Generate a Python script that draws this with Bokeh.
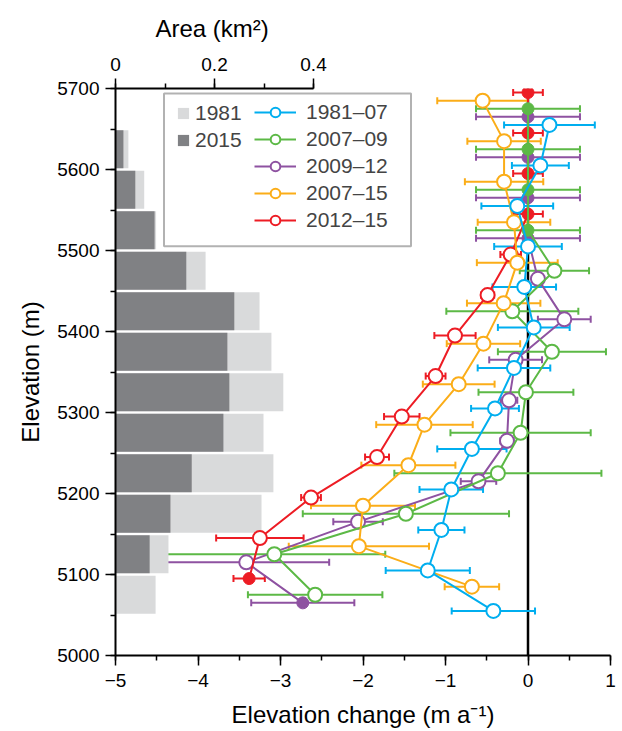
from bokeh.plotting import figure
from bokeh.models import (Range1d, LinearAxis, SingleIntervalTicker, Whisker, ColumnDataSource,
                          Legend, LegendItem, BoxAnnotation, Span, TeeHead, Title)
from bokeh.embed import file_html
from bokeh.resources import INLINE

# ---------------- data ----------------
bin_bottom = [5050, 5100, 5150, 5200, 5250, 5300, 5350, 5400, 5450, 5500, 5550, 5600]
area_1981 = [0.081, 0.107, 0.295, 0.319, 0.299, 0.339, 0.315, 0.291, 0.182, 0.082, 0.058, 0.026]
area_2015 = [0.000, 0.069, 0.111, 0.154, 0.218, 0.230, 0.226, 0.240, 0.143, 0.079, 0.040, 0.016]

elev_1981_07 = [5655, 5605, 5555, 5505, 5455, 5405, 5355, 5305, 5255, 5205, 5155, 5105, 5055]
dh_1981_07 = [0.26, 0.15, -0.13, 0.0, -0.045, 0.07, -0.17, -0.40, -0.68, -0.93, -1.05, -1.215, -0.42]
err_1981_07 = [0.55, 0.345, 0.435, 0.41, 0.385, 0.435, 0.44, 0.29, 0.42, 0.385, 0.28, 0.51, 0.505]
filled_1981_07 = [False] * 13

elev_2007_09 = [5675, 5625, 5575, 5525, 5475, 5425, 5375, 5325, 5275, 5225, 5175, 5125, 5075]
dh_2007_09 = [0.0, 0.0, 0.0, 0.0, 0.32, -0.19, 0.29, -0.025, -0.09, -0.365, -1.48, -3.075, -2.58]
err_2007_09 = [0.63, 0.63, 0.63, 0.63, 0.42, 0.80, 0.655, 0.575, 0.85, 1.255, 1.25, 1.345, 0.815]
filled_2007_09 = [True, True, True, True] + [False] * 9

elev_2009_12 = [5665, 5615, 5565, 5515, 5465, 5415, 5365, 5315, 5265, 5215, 5165, 5115, 5065]
dh_2009_12 = [0.0, 0.0, 0.0, 0.0, 0.12, 0.44, -0.15, -0.23, -0.255, -0.60, -2.06, -3.415, -2.73]
err_2009_12 = [0.63, 0.63, 0.63, 0.63, 0.05, 0.32, 0.32, 0.10, 0.08, 0.215, 0.30, 1.005, 0.625]
filled_2009_12 = [True, True, True, True] + [False] * 8 + [True]

elev_2007_15 = [5685, 5635, 5585, 5535, 5485, 5435, 5385, 5335, 5285, 5235, 5185, 5135, 5085]
dh_2007_15 = [-0.55, -0.29, -0.29, -0.17, -0.13, -0.295, -0.54, -0.84, -1.255, -1.45, -2.00, -2.05, -0.68]
err_2007_15 = [0.55, 0.445, 0.475, 0.44, 0.49, 0.445, 0.445, 0.435, 0.585, 0.57, 0.63, 0.85, 0.33]
filled_2007_15 = [False] * 13

elev_2012_15 = [5695, 5645, 5595, 5545, 5495, 5445, 5395, 5345, 5295, 5245, 5195, 5145, 5095]
dh_2012_15 = [0.0, 0.0, 0.0, 0.0, -0.21, -0.49, -0.885, -1.12, -1.53, -1.83, -2.63, -3.25, -3.38]
err_2012_15 = [0.18, 0.18, 0.18, 0.18, 0.125, 0.08, 0.25, 0.12, 0.215, 0.145, 0.12, 0.53, 0.19]
filled_2012_15 = [True, True, True, True] + [False] * 8 + [True]

series_labels = ["1981\u201307", "2007\u201309", "2009\u201312", "2007\u201315", "2012\u201315"]
series_colors = ["#00aeef", "#5cb946", "#8e52a1", "#fbad18", "#ed1c24"]
area_labels = ["1981", "2015"]
area_colors = ["#d9dadb", "#808184"]

FONT = "Liberation Sans"

# ---------------- figure ----------------
p = figure(width=622, height=731, output_backend="svg", toolbar_location=None,
           x_range=Range1d(-5, 1), y_range=Range1d(5000, 5700),
           min_border_left=115, min_border_top=87, min_border_right=12, min_border_bottom=76,
           x_axis_label="Elevation change (m a\u207b\u00b9)", y_axis_label="Elevation (m)")
p.outline_line_color = None
p.xgrid.visible = False
p.ygrid.visible = False
p.background_fill_color = "white"
p.border_fill_color = "white"
p.extra_x_ranges = {"area": Range1d(0, 1.0)}

# area bars
centers = [b + 25 for b in bin_bottom]
bar_src = ColumnDataSource(dict(y=centers, a81=area_1981, a15=area_2015))
bar81 = p.hbar(y="y", left=0, right="a81", height=47, source=bar_src, x_range_name="area",
               fill_color=area_colors[0], line_color=None)
bar15 = p.hbar(y="y", left=0, right="a15", height=47, source=bar_src, x_range_name="area",
               fill_color=area_colors[1], line_color=None)

# zero line
p.add_layout(Span(location=0, dimension="height", line_color="black", line_width=2.5, level="underlay"))

series = {
    "1981\u201307": (elev_1981_07, dh_1981_07, err_1981_07, filled_1981_07),
    "2007\u201309": (elev_2007_09, dh_2007_09, err_2007_09, filled_2007_09),
    "2009\u201312": (elev_2009_12, dh_2009_12, err_2009_12, filled_2009_12),
    "2007\u201315": (elev_2007_15, dh_2007_15, err_2007_15, filled_2007_15),
    "2012\u201315": (elev_2012_15, dh_2012_15, err_2012_15, filled_2012_15),
}
color_of = dict(zip(series_labels, series_colors))
draw_order = ["2009\u201312", "2012\u201315", "2007\u201309", "2007\u201315", "1981\u201307"]
legend_renderers = {}
for name in draw_order:
    elev, dh, err, filled = series[name]
    c = color_of[name]
    src = ColumnDataSource(dict(y=elev, x=dh, lo=[d - e for d, e in zip(dh, err)],
                                hi=[d + e for d, e in zip(dh, err)]))
    w = Whisker(source=src, base="y", lower="lo", upper="hi", dimension="width",
                line_color=c, line_width=2,
                upper_head=TeeHead(size=7, line_color=c, line_width=2),
                lower_head=TeeHead(size=7, line_color=c, line_width=2))
    p.add_layout(w)
    ln = p.line("x", "y", source=src, line_color=c, line_width=2)
    op = ColumnDataSource(dict(y=[e for e, f in zip(elev, filled) if not f],
                               x=[d for d, f in zip(dh, filled) if not f]))
    fi = ColumnDataSource(dict(y=[e for e, f in zip(elev, filled) if f],
                               x=[d for d, f in zip(dh, filled) if f]))
    fr = p.scatter("x", "y", source=fi, marker="circle", size=12, fill_color=c, line_color=c, line_width=1)
    orr = p.scatter("x", "y", source=op, marker="circle", size=14, fill_color="white", line_color=c, line_width=2)
    legend_renderers[name] = [ln, orr]

# legend box
p.add_layout(BoxAnnotation(left=-4.412, right=-1.418, top=5693.8, bottom=5505.3,
                           fill_alpha=0, line_color="black", line_width=2, level="overlay"))

leg_sq = Legend(items=[LegendItem(label=area_labels[0], renderers=[bar81]),
                       LegendItem(label=area_labels[1], renderers=[bar15])],
                location=(61, 503))
leg_ser = Legend(items=[LegendItem(label=n, renderers=legend_renderers[n]) for n in series_labels],
                 location=(139, 423))
for lg, gw, gh, st in ((leg_sq, 14, 14, 5), (leg_ser, 42, 24, 10)):
    lg.background_fill_alpha = 0
    lg.border_line_color = None
    lg.padding = 0
    lg.margin = 0
    lg.spacing = 3
    lg.glyph_width = gw
    lg.glyph_height = gh
    lg.label_height = 24
    lg.label_standoff = st
    lg.label_text_font = FONT
    lg.label_text_font_size = "21px"
    lg.label_text_baseline = "middle"
    p.add_layout(lg)

# axes styling
def style_axis(ax):
    ax.axis_line_width = 2
    ax.axis_line_color = "black"
    ax.major_tick_line_width = 1.5
    ax.minor_tick_line_width = 1.5
    ax.major_tick_out = 10
    ax.major_tick_in = 0
    ax.minor_tick_out = 5
    ax.minor_tick_in = 0
    ax.major_label_text_font = FONT
    ax.major_label_text_font_size = "19px"
    ax.major_label_text_color = "black"
    ax.axis_label_text_font = FONT
    ax.axis_label_text_font_size = "24px"
    ax.axis_label_text_font_style = "normal"
    ax.axis_label_text_color = "black"

xa = p.xaxis[0]
xa.ticker = SingleIntervalTicker(interval=1, num_minor_ticks=2)
xa.major_label_overrides = {v: (("\u2212" + str(-v)) if v < 0 else str(v)) for v in range(-5, 2)}
style_axis(xa)
xa.major_label_standoff = 8
xa.axis_label_standoff = 11

ya = p.yaxis[0]
ya.ticker = SingleIntervalTicker(interval=100, num_minor_ticks=2)
style_axis(ya)
ya.major_label_standoff = 6
ya.axis_label_standoff = 10

ta = LinearAxis(x_range_name="area", ticker=SingleIntervalTicker(interval=0.2, num_minor_ticks=2),
                bounds=(0, 0.4))
style_axis(ta)
ta.major_label_overrides = {0: "0", 0.2: "0.2", 0.4: "0.4"}
ta.major_label_standoff = 8
p.add_layout(ta, "above")

# top-axis title over the drawn part (0-0.4 km2) of the area axis
p.add_layout(Title(text="Area (km\u00b2)", align="left", offset=40, standoff=25,
                   text_font=FONT, text_font_size="24px", text_font_style="normal",
                   text_color="black"), "above")

open("out.html", "w").write(file_html(p, INLINE))
